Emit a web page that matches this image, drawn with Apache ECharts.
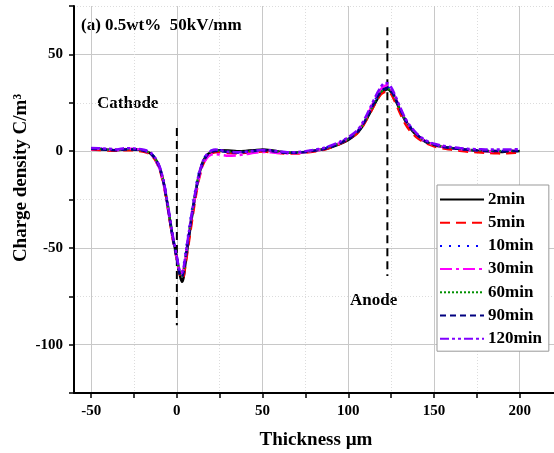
<!DOCTYPE html>
<html>
<head>
<meta charset="utf-8">
<script src="https://cdn.jsdelivr.net/npm/echarts@6/dist/echarts.min.js"></script>
<style>html,body{margin:0;padding:0;background:#fff}#c{width:554px;height:453px}</style>
</head>
<body>
<div id="c"></div>
<script>
// Thickness (µm)
var thickness = [-50,-45,-40,-35,-30,-25,-20,-17.5,-15,-12.5,-10,-7.5,-5,-2.5,0,1,2,3,4,5,7.5,10,12.5,15,17.5,20,22.5,25,30,35,40,45,50,55,60,65,70,75,80,85,90,95,100,105,108,111,114,117,119,121,123,125,127,130,133,136,140,145,150,155,160,165,170,175,180,185,190,195,200];

// Charge density (C/m3) per polarization time
var d2min = [1.2,1.0,0.6,0.4,0.9,0.8,0.4,-0.3,-1.5,-4,-8.5,-17,-30,-44,-55,-60,-65,-67.5,-65,-58,-42,-27,-14,-6,-2,-0.5,0.2,0.4,0.3,0,0.1,0.4,0.8,0.4,-0.3,-0.8,-0.7,-0.4,0.2,0.8,2.0,3.6,5.8,9.2,12.5,17,22,27,29.8,31.2,32,30.5,27.5,21.5,16,12,8,4.8,3.2,2.2,1.6,1.0,0.6,0.2,-0.1,-0.3,-0.4,-0.2,0];
var d5min = [0.8,0.6,0.3,0.2,0.5,0.4,-0.2,-0.8,-2,-4.8,-9.5,-18,-31,-45,-56,-61,-64.5,-66,-64.5,-59,-44,-29,-16,-7.5,-3,-1.2,-0.6,-0.5,-1.0,-1.2,-0.9,-0.5,-0.2,-0.6,-1.0,-1.3,-1.2,-0.8,-0.2,0.6,2.0,3.8,6.0,9.0,12.2,16.8,21.8,26.8,29.3,30.5,31,29.5,26,20,14.5,10.5,7,4.2,2.5,1.5,0.8,0.2,-0.3,-0.6,-0.9,-1.1,-1.2,-1.0,-0.8];
var d10min = [1.5,1.3,1.0,0.8,1.3,1.0,0.6,0.0,-1.2,-3.8,-8.2,-16.5,-29.5,-43.5,-55,-60.5,-63.5,-63,-59,-53,-38,-24,-12.5,-5.5,-1.5,0.2,0.6,0.4,-0.5,-0.8,-0.5,0,0.4,0.1,-0.5,-0.9,-0.8,-0.3,0.4,1.2,2.6,4.4,6.8,10,13.5,18.2,23.5,28.5,31,32.5,33,31.5,28.5,22.5,17,12.8,8.6,5.2,3.4,2.4,1.7,1.2,0.8,0.5,0.3,0.2,0.1,0.2,0.3];
var d30min = [1.0,1.2,0.9,0.6,1.1,1.2,0.5,-0.4,-1.8,-4.6,-9.3,-18,-31,-44.5,-55.5,-60,-62.5,-63,-60.5,-55,-40,-26.5,-15,-7.5,-3.5,-1.8,-1.5,-1.8,-2.4,-2.2,-1.6,-0.9,-0.4,-0.6,-1.0,-1.2,-1.0,-0.5,0.2,1.0,2.4,4.2,6.6,9.8,13.4,18.3,23.8,29,32,33.6,34,32,28.6,22.4,16.6,12.4,8.4,5.0,3.2,2.2,1.5,1.0,0.6,0.3,0.1,0,0.1,0.2,0.3];
var d60min = [1.3,1.1,0.8,0.6,1.0,0.9,0.4,-0.2,-1.4,-4.0,-8.6,-17,-30,-44,-55.5,-60.5,-64,-64.5,-61.5,-55.5,-40,-25.5,-13.5,-6,-2,-0.3,0.3,0.2,-0.3,-0.5,-0.3,0.1,0.5,0.2,-0.4,-0.8,-0.7,-0.3,0.3,1.0,2.3,4.1,6.4,9.6,13,17.6,22.8,27.8,30.4,31.8,32.2,30.8,27.8,22,16.5,12.4,8.4,5.0,3.3,2.3,1.6,1.1,0.7,0.4,0.2,0.1,0,0.1,0.2];
var d90min = [1.2,1.0,0.7,0.5,0.9,0.8,0.3,-0.3,-1.5,-4.1,-8.7,-17.2,-30.2,-44.2,-55.8,-61,-64.5,-65,-62,-56,-40.5,-26,-14,-6.3,-2.3,-0.5,0.1,0,-0.5,-0.7,-0.4,0,0.4,0.1,-0.5,-0.9,-0.8,-0.4,0.2,0.9,2.2,4.0,6.3,9.5,13,17.7,23,28,30.8,32.2,32.6,31,28,22.2,16.6,12.5,8.5,5.1,3.3,2.3,1.6,1.1,0.7,0.4,0.2,0.1,0,0,0.1];
var d120min = [1.6,1.5,1.2,0.9,1.5,1.4,0.8,0.2,-1.0,-3.6,-8.0,-16.2,-29,-43,-54.5,-59.5,-62.5,-63,-60,-54,-39,-25,-13,-5.5,-1.6,0.2,0.8,0.6,-0.3,-0.6,-0.3,0.2,0.6,0.4,-0.2,-0.6,-0.5,0,0.7,1.5,2.9,4.8,7.2,10.5,14.2,19.2,24.8,30.2,33.2,35.2,35,33,29.5,23.2,17.4,13.2,9.0,5.6,3.8,2.8,2.1,1.6,1.2,1.0,0.9,0.8,0.8,0.9,1.0];

var seriesNames = ['2min','5min','10min','30min','60min','90min','120min'];

// Electrode marker lines (thickness, charge density)
var cathodeLine = [[0, 12], [0, -90]];
var anodeLine = [[122.8, 64], [122.8, -64.5]];

// Axis ticks
var xMajorTicks = [-50, 0, 50, 100, 150, 200];
var xMinorTicks = [-25, 25, 75, 125, 175];
var yMajorTicks = [-100, -50, 0, 50];
var yMinorTicks = [-125, -75, -25, 25, 75];

var FONT = '"Liberation Serif", "Times New Roman", serif';
var allData = [d2min, d5min, d10min, d30min, d60min, d90min, d120min];
var styles = [
  {color: '#000000', type: 'solid', width: 2.5},
  {color: '#ff0000', type: [10, 6], width: 2.5},
  {color: '#0000ff', type: [2, 7], width: 2.5},
  {color: '#ff00ff', type: [12, 4, 3, 4], width: 2.5},
  {color: '#009000', type: [2, 2], width: 2.2},
  {color: '#000080', type: [6, 4], width: 2.5},
  {color: '#8000ff', type: [9, 3, 3, 3, 3, 3], width: 2.5}
];

function pairs(xs, ys) { return xs.map(function (x, i) { return [x, ys[i]]; }); }

var series = seriesNames.map(function (name, i) {
  return {
    name: name, type: 'line', xAxisIndex: 0, yAxisIndex: 0,
    data: pairs(thickness, allData[i]),
    symbol: 'none', smooth: 0.2,
    lineStyle: {color: styles[i].color, type: styles[i].type, width: styles[i].width},
    itemStyle: {color: styles[i].color, opacity: 0},
    z: 3 + i
  };
});
[cathodeLine, anodeLine].forEach(function (d, i) {
  series.push({
    name: i === 0 ? 'cathode' : 'anode', type: 'line', data: d, symbol: 'none', silent: true,
    lineStyle: {color: '#000', type: [8, 5], width: 2}, z: 2
  });
});

function makeX(ticks, main) {
  return {
    type: 'value', min: -60, max: 220, position: 'bottom',
    axisLine: {show: main, onZero: false, lineStyle: {color: '#000', width: 2}},
    axisTick: {show: true, length: 5, customValues: ticks, lineStyle: {color: '#000', width: 1.5}},
    axisLabel: {show: main, customValues: ticks, margin: 11, fontSize: 15, fontWeight: 'bold', fontFamily: FONT, color: '#000'},
    splitLine: {show: true, lineStyle: main ? {color: '#c8c8c8', width: 1} : {color: '#dcdcdc', width: 1, type: [1, 2]}}
  };
}
function makeY(ticks, main) {
  return {
    type: 'value', min: -125, max: 75, position: 'left',
    axisLine: {show: main, onZero: false, lineStyle: {color: '#000', width: 2}},
    axisTick: {show: true, length: 5, customValues: ticks, lineStyle: {color: '#000', width: 1.5}},
    axisLabel: {show: main, customValues: ticks, margin: 11, fontSize: 15, fontWeight: 'bold', fontFamily: FONT, color: '#000'},
    splitLine: {show: true, lineStyle: main ? {color: '#c8c8c8', width: 1} : {color: '#dcdcdc', width: 1, type: [1, 2]}}
  };
}

var chart = echarts.init(document.getElementById('c'), null, {renderer: 'canvas'});
chart.setOption({
  backgroundColor: '#ffffff',
  animation: false,
  grid: {left: 74, right: -4, top: 6, bottom: 60, containLabel: false},
  xAxis: [makeX(xMajorTicks, true), makeX(xMinorTicks, false)],
  yAxis: [makeY(yMajorTicks, true), makeY(yMinorTicks, false)],
  legend: {
    data: seriesNames, orient: 'vertical', left: 437, top: 185,
    itemWidth: 44, itemHeight: 17, itemGap: 6.2,
    padding: [6, 7, 4, 2],
    borderColor: '#999', borderWidth: 1, backgroundColor: '#fff',
    itemStyle: {opacity: 0},
    textStyle: {fontSize: 17, fontWeight: 'bold', fontFamily: FONT, color: '#000', lineHeight: 17, padding: [0, 0, 0, -1]}
  },
  graphic: [
    {type: 'text', left: 81, top: 17, style: {text: '(a) 0.5wt%  50kV/mm', font: 'bold 17px ' + FONT, fill: '#000'}},
    {type: 'text', left: 97, top: 95, style: {text: 'Cathode', font: 'bold 17px ' + FONT, fill: '#000'}},
    {type: 'text', left: 350, top: 292, style: {text: 'Anode', font: 'bold 17px ' + FONT, fill: '#000'}},
    {type: 'text', x: 21, y: 178, rotation: Math.PI / 2, style: {text: 'Charge density C/m\u00B3', font: 'bold 19px ' + FONT, fill: '#000', align: 'center', verticalAlign: 'middle'}},
    {type: 'text', x: 316, y: 440, style: {text: 'Thickness \u00B5m', font: 'bold 19px ' + FONT, fill: '#000', align: 'center', verticalAlign: 'middle'}}
  ],
  series: series
});
</script>
</body>
</html>
